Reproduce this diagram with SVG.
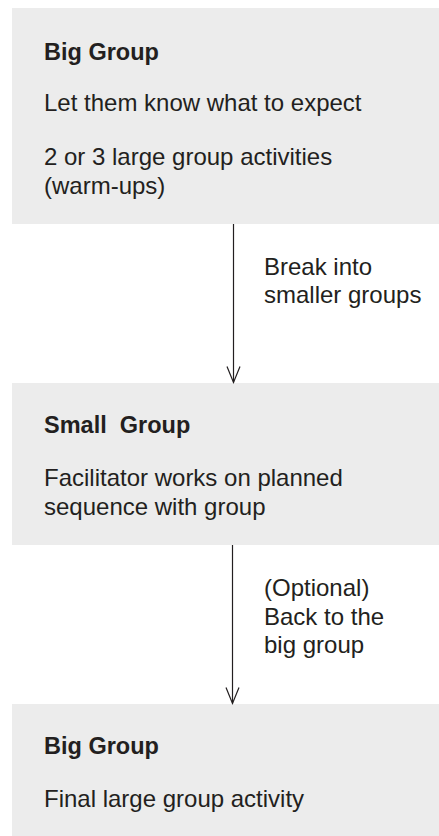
<svg xmlns="http://www.w3.org/2000/svg" width="439" height="836" viewBox="0 0 439 836">
<style>
.box{fill:#ececec;}
text{font-family:"Liberation Sans",Arial,Helvetica,sans-serif;font-size:24px;fill:#231f20;}
.b{font-weight:bold;font-size:23.5px;}
.conn{stroke:#231f20;stroke-width:1.2;fill:none;}
</style>
<defs>
<marker id="arr" markerWidth="16" markerHeight="20" refX="7" refY="16" orient="0" markerUnits="userSpaceOnUse" viewBox="0 0 14 18">
<path d="M0.5,0 L7,16 L13.5,0" fill="none" stroke="#231f20" stroke-width="1.2"/>
</marker>
</defs>
<rect width="439" height="836" fill="#ffffff"/>
<g id="node-big-group-1">
<rect class="box" x="12" y="8" width="427" height="216"/>
<text class="b" x="44" y="60">Big Group</text>
<text x="44" y="111">Let them know what to expect</text>
<text x="44" y="165">2 or 3 large group activities</text>
<text x="44" y="194">(warm-ups)</text>
</g>
<g id="node-small-group">
<rect class="box" x="12" y="383" width="427" height="162"/>
<text class="b" x="44" y="433" xml:space="preserve">Small  Group</text>
<text x="44" y="486">Facilitator works on planned</text>
<text x="44" y="515">sequence with group</text>
</g>
<g id="node-big-group-2">
<rect class="box" x="12" y="704" width="427" height="132"/>
<text class="b" x="44" y="754">Big Group</text>
<text x="44" y="807">Final large group activity</text>
</g>
<g id="connectors">
<line class="conn" x1="233.5" y1="224" x2="233.5" y2="382.5"/>
<path d="M227,366.5 L233.5,382.5 L240,366.5" class="conn"/>
<text x="264" y="275">Break into</text>
<text x="264" y="303">smaller groups</text>
<line class="conn" x1="232.5" y1="545" x2="232.5" y2="703.5"/>
<path d="M226,687.5 L232.5,703.5 L239,687.5" class="conn"/>
<text x="264" y="596">(Optional)</text>
<text x="264" y="625">Back to the</text>
<text x="264" y="653">big group</text>
</g>
</svg>
